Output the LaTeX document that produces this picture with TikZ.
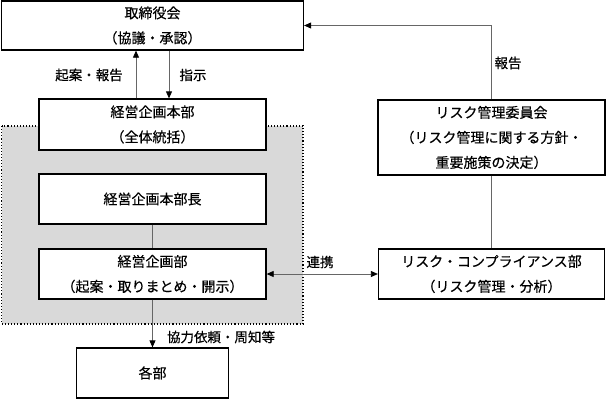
\documentclass[tikz,border=0pt]{standalone}
\usepackage{fontspec}
\setmainfont{Noto Sans CJK JP}[FakeBold=0.4]
\usetikzlibrary{arrows.meta}
\begin{document}
\begin{tikzpicture}[x=1pt,y=-1pt,
  box/.style={draw=black,line width=1.3pt,fill=white,align=center,inner sep=0pt,
    font=\fontsize{14pt}{25pt}\selectfont},
  conn/.style={draw=black!60,line width=0.8pt},
  tip/.style={-{Triangle[length=7pt,width=6pt,color=black]}},
  lbl/.style={font=\fontsize{13.5pt}{15pt}\selectfont,inner sep=0pt}]
\useasboundingbox (0,0) rectangle (606,399);
% shaded group
\path[fill=black!15,draw=black,dotted,line width=1.1pt] (1.5,126) rectangle (303,324);
% nodes
\node[box,minimum width=302pt,minimum height=49pt] (board) at (152.5,25.5) {取締役会\\（協議・承認）};
\node[box,minimum width=227pt,minimum height=51pt] (honbu) at (152.5,124.5) {経営企画本部\\（全体統括）};
\node[box,minimum width=227pt,minimum height=50pt] (cho) at (152.5,199) {経営企画本部長};
\node[box,minimum width=227pt,minimum height=50pt] (bu) at (152.5,274) {経営企画部\\（起案・取りまとめ・開示）};
\node[box,minimum width=152pt,minimum height=50pt] (kakubu) at (152.5,373) {各部};
\node[box,minimum width=227pt,minimum height=75pt] (cmt) at (491.5,137.5) {リスク管理委員会\\（リスク管理に関する方針・\\重要施策の決定）};
\node[box,minimum width=226pt,minimum height=50pt] (comp) at (491.5,274) {リスク・コンプライアンス部\\（リスク管理・分析）};
% connectors
\draw[conn,tip] ([xshift=-16.5pt]honbu.north) -- ([xshift=-16.5pt]board.south);
\draw[conn,tip] ([xshift=16.5pt]board.south) -- ([xshift=16.5pt]honbu.north);
\draw[conn,tip] (cmt.north) |- (board.east);
\draw[conn] (cmt.south) -- (comp.north);
\draw[conn] (cho.south) -- (bu.north);
\draw[conn,{Triangle[length=7pt,width=6pt,color=black]}-{Triangle[length=7pt,width=6pt,color=black]}] (bu.east) -- (comp.west);
\draw[conn,tip] (bu.south) -- (kakubu.north);
% labels
\node[lbl] (l1) at (89,75) {起案・報告};
\node[lbl] (l2) at (193,75) {指示};
\node[lbl] (l3) at (508,63) {報告};
\node[lbl] (l4) at (320,262) {連携};
\node[lbl] (l5) at (221,337) {協力依頼・周知等};
\end{tikzpicture}
\end{document}
